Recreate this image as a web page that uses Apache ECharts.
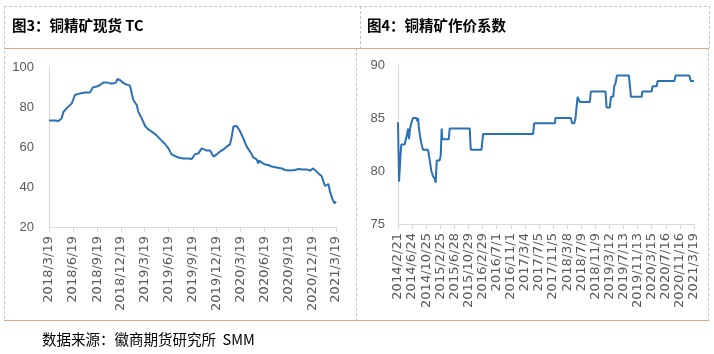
<!DOCTYPE html>
<html>
<head>
<meta charset="utf-8">
<script src="https://cdn.jsdelivr.net/npm/echarts@6/dist/echarts.min.js"></script>
<style>
html,body{margin:0;padding:0;background:#fff;}
#c{width:714px;height:354px;}
</style>
</head>
<body>
<div id="c"></div>
<script>
// ---- Data ----
const titles = ['图3：铜精矿现货 TC', '图4：铜精矿作价系数'];
const sourceText = '数据来源：徽商期货研究所  SMM';

// Chart 1: copper concentrate spot TC
const tcAxisRange = ['2018/3/19', '2021/3/19'];
const tcDates = ['2018/3/19','2018/4/11','2018/4/24','2018/5/6','2018/5/13','2018/5/25','2018/6/14','2018/6/26','2018/7/15','2018/8/3','2018/8/23','2018/9/2','2018/9/17','2018/9/30','2018/10/12','2018/10/25','2018/11/7','2018/11/20','2018/11/30','2018/12/5','2018/12/15','2018/12/25','2019/1/7','2019/1/22','2019/1/29','2019/2/4','2019/2/17','2019/2/23','2019/3/2','2019/3/8','2019/3/21','2019/4/2','2019/4/15','2019/4/28','2019/5/11','2019/5/23','2019/6/5','2019/6/18','2019/6/30','2019/7/13','2019/7/26','2019/8/14','2019/9/2','2019/9/15','2019/9/28','2019/10/10','2019/10/17','2019/10/23','2019/10/29','2019/11/11','2019/11/24','2019/11/30','2019/12/7','2019/12/13','2019/12/19','2020/1/1','2020/1/14','2020/1/27','2020/2/8','2020/2/15','2020/2/21','2020/2/27','2020/3/5','2020/3/11','2020/3/17','2020/3/30','2020/4/12','2020/4/25','2020/5/7','2020/5/20','2020/5/26','2020/5/30','2020/6/8','2020/6/21','2020/7/4','2020/7/16','2020/8/4','2020/8/24','2020/9/5','2020/9/24','2020/10/13','2020/10/26','2020/11/2','2020/11/14','2020/11/27','2020/12/10','2020/12/22','2020/12/29','2021/1/11','2021/1/23','2021/2/5','2021/2/11','2021/2/18','2021/2/24','2021/3/6','2021/3/13','2021/3/19'];
const tcValues = [73.3,73.2,73,74.3,77.5,79.3,81.8,86,86.8,87.2,87.3,89.8,90.2,91,92.2,92.3,91.8,91.8,92.3,94,93.5,92.3,91.3,90.7,91,83.5,81,77.7,76.8,74.3,70.5,68.8,67.7,66.5,64.8,63.2,61.5,59.3,56.3,55.5,54.7,54.3,54.3,54,56.5,56.7,57.7,59.3,58.5,58.2,58.2,58,55.2,54.8,56.3,57.7,58.8,60.2,61.3,65.2,70.2,69.8,70.5,71,68,64.3,60.2,57.7,54.8,53.8,51.8,53.2,52.2,51.3,51,50.2,49.8,49.3,48.5,48.2,48.5,49,48.2,48.8,48.8,48.2,49.3,49,46.8,45.5,40.5,40.2,41.5,37.7,33.8,31.8,32.7];
const tcY = {min: 20, max: 100, step: 20};

// Chart 2: copper concentrate pricing coefficient
const coefAxisRange = ['2014/2/21', '2021/3/19'];
const coefDates = ['2014/2/21','2014/3/2','2014/3/8','2014/3/16','2014/3/22','2014/4/20','2014/5/5','2014/5/14','2014/5/19','2014/5/28','2014/6/6','2014/6/17','2014/7/2','2014/7/31','2014/8/9','2014/8/15','2014/8/21','2014/9/1','2014/9/13','2014/9/27','2014/11/10','2014/11/25','2014/12/9','2014/12/24','2015/1/7','2015/1/16','2015/1/25','2015/2/20','2015/3/1','2015/3/9','2015/3/15','2015/5/10','2015/5/18','2015/11/9','2015/11/18','2016/2/19','2016/3/5','2017/5/15','2017/5/24','2017/11/21','2017/11/26','2018/4/9','2018/4/21','2018/5/9','2018/5/20','2018/5/29','2018/6/7','2018/6/27','2018/9/22','2018/10/1','2019/2/6','2019/2/15','2019/3/16','2019/3/25','2019/4/14','2019/4/23','2019/5/5','2019/5/16','2019/8/29','2019/9/16','2019/12/18','2019/12/24','2020/3/14','2020/3/23','2020/4/27','2020/5/6','2020/9/28','2020/10/10','2021/2/6','2021/2/18','2021/3/19'];
const coefValues = [84.6,79,79,81.7,82.5,82.5,82.6,83.6,84,83,84,84.5,85,85,84.7,85,84.2,83.3,82.6,82,82,81,80,79.5,79.3,78.9,81,81,81.5,84,83,83,84,84,82,82,83.5,83.5,84.5,84.5,85,85,84.5,84.5,85,86,87,86.5,86.5,87.5,87.5,86,86,87,87,88,88.3,89,89,87,87,87.5,87.5,88,88,88.5,88.5,89,89,88.5,88.5];
const coefY = {min: 75, max: 90, step: 5};

// ---- Helpers ----
function parseD(s){const p=s.split('/').map(Number);return Date.UTC(p[0],p[1]-1,p[2]);}
function fmtD(t){const d=new Date(t);return d.getUTCFullYear()+'/'+(d.getUTCMonth()+1)+'/'+d.getUTCDate();}
function dayList(range){const out=[];for(let t=parseD(range[0]);t<=parseD(range[1]);t+=86400000)out.push(fmtD(t));return out;}
function pairs(cats, dates, vals){const m={};cats.forEach((c,i)=>m[c]=i);return dates.map((d,i)=>[m[d], vals[i]]);}

const cats1 = dayList(tcAxisRange);
const cats2 = dayList(coefAxisRange);
const startParts1 = tcAxisRange[0].split('/').map(Number);
function tick1(idx, val){const p=val.split('/').map(Number);return p[2]===startParts1[2] && ((p[1]-startParts1[1])%3+3)%3===0;}
function tick2(idx){return idx % 123 === 0;}

const axisGray = '#d9d9d9';
const labelGray = '#595959';
const lineBlue = '#2a71b5';
const dash = '#c6c6c6';
const orange = '#e0a77a';

function xAx(grid, cats, fn){
  return {type:'category', gridIndex:grid, data:cats, boundaryGap:false,
    axisLine:{lineStyle:{color:axisGray}},
    axisTick:{interval:fn, length:5, lineStyle:{color:axisGray}},
    axisLabel:{interval:fn, rotate:90, margin:9, fontSize:13, color:labelGray, fontFamily:'DejaVu Sans'},
    splitLine:{show:false}};
}
function yAx(grid, y, margin){
  return {type:'value', gridIndex:grid, min:y.min, max:y.max, interval:y.step,
    axisLine:{show:true, lineStyle:{color:axisGray}}, axisTick:{show:false},
    axisLabel:{fontSize:13, color:labelGray, margin:margin, fontFamily:'Liberation Sans'},
    splitLine:{show:false}};
}
function dl(x1,y1,x2,y2){return {type:'line', silent:true, shape:{x1,y1,x2,y2}, style:{stroke:dash, lineWidth:1, lineDash:[3,2]}};}
function ol(y){return {type:'line', silent:true, shape:{x1:4,y1:y,x2:709,y2:y}, style:{stroke:orange, lineWidth:1}};}

const chart = echarts.init(document.getElementById('c'), null, {renderer:'canvas'});
chart.setOption({
  animation:false,
  backgroundColor:'#fff',
  grid:[{left:49, top:67, width:287, height:160}, {left:398, top:65, width:296, height:159}],
  xAxis:[xAx(0, cats1, tick1), xAx(1, cats2, tick2)],
  yAxis:[yAx(0, tcY, 15), yAx(1, coefY, 13)],
  series:[
    {type:'line', xAxisIndex:0, yAxisIndex:0, showSymbol:false, data:pairs(cats1, tcDates, tcValues), lineStyle:{color:lineBlue, width:2}, itemStyle:{color:lineBlue}},
    {type:'line', xAxisIndex:1, yAxisIndex:1, showSymbol:false, data:pairs(cats2, coefDates, coefValues), lineStyle:{color:lineBlue, width:2}, itemStyle:{color:lineBlue}}
  ],
  graphic:[
    dl(4,6.5,709,6.5), dl(4.5,6,4.5,320), dl(360.5,6,360.5,48), dl(356.5,48,356.5,320),
    dl(709.5,6,709.5,48), dl(708.5,48,708.5,320),
    ol(48.5), ol(320.5),
    {type:'text', left:12, top:18, style:{text:titles[0], font:'bold 14.5px "Noto Sans CJK SC"', fill:'#000'}},
    {type:'text', left:367, top:18, style:{text:titles[1], font:'bold 14.5px "Noto Sans CJK SC"', fill:'#000'}},
    {type:'text', left:42, top:332, style:{text:sourceText, font:'14.5px "Noto Sans CJK SC"', fill:'#000'}}
  ]
});
</script>
</body>
</html>
